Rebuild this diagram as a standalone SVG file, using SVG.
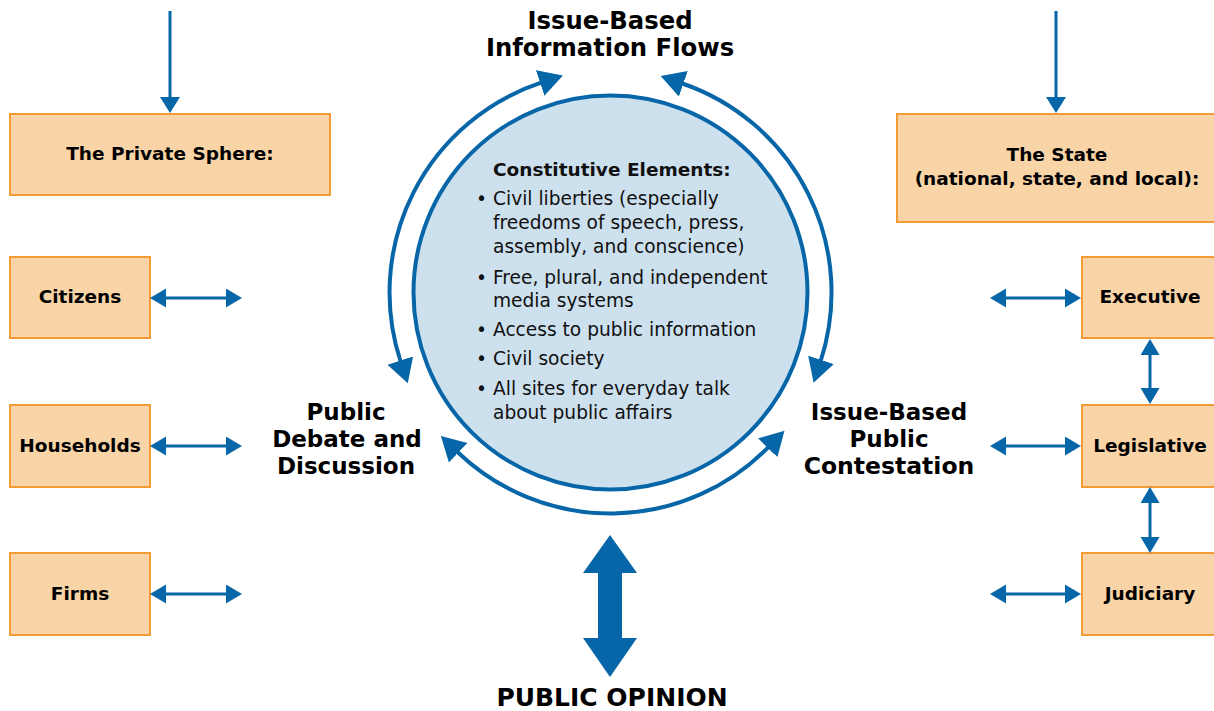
<svg xmlns="http://www.w3.org/2000/svg" width="1214" height="711" viewBox="0 0 1214 711">
<style>
.box{fill:#f8d4a6;stroke:#f39b36;stroke-width:2}
.bt{font-family:"DejaVu Sans",Verdana,sans-serif;font-weight:bold;font-size:18.5px;fill:#000;text-anchor:middle}
.hd{font-family:"DejaVu Sans",Verdana,sans-serif;font-weight:bold;font-size:23px;fill:#000;text-anchor:middle}
.ct{font-family:"DejaVu Sans",Verdana,sans-serif;font-size:18.6px;fill:#111}
.ctb{font-family:"DejaVu Sans",Verdana,sans-serif;font-size:18.5px;font-weight:bold;fill:#111}
.ln{stroke:#0766a8;stroke-width:3;fill:none}
.arc{stroke:#0766a8;stroke-width:4;fill:none;marker-start:url(#ah);marker-end:url(#ah)}
.sa{stroke:#0766a8;stroke-width:3;fill:none;marker-start:url(#sa);marker-end:url(#sa)}
</style>
<defs>
<marker id="ah" markerUnits="userSpaceOnUse" markerWidth="26" markerHeight="28" refX="1" refY="13.5" orient="auto-start-reverse" viewBox="0 0 26 28"><path d="M0,0 L24,13.5 L0,27 z" fill="#0766a8"/></marker>
<marker id="sa" markerUnits="userSpaceOnUse" markerWidth="18" markerHeight="20" refX="6" refY="9.5" orient="auto-start-reverse" viewBox="0 0 18 20"><path d="M0,0 L16,9.5 L0,19 z" fill="#0766a8"/></marker>
</defs>
<rect width="1214" height="711" fill="#fff"/>

<g id="center">
<circle cx="610.5" cy="292.5" r="197" fill="#cde0ee" stroke="#0766a8" stroke-width="4"/>
<text class="ctb" x="493" y="176">Constitutive Elements:</text>
<g class="ct">
<text x="476" y="205">•</text><text x="493" y="205">Civil liberties (especially</text>
<text x="493" y="229">freedoms of speech, press,</text>
<text x="493" y="253">assembly, and conscience)</text>
<text x="476" y="284">•</text><text x="493" y="284">Free, plural, and independent</text>
<text x="493" y="307">media systems</text>
<text x="476" y="336">•</text><text x="493" y="336">Access to public information</text>
<text x="476" y="365">•</text><text x="493" y="365">Civil society</text>
<text x="476" y="395">•</text><text x="493" y="395">All sites for everyday talk</text>
<text x="493" y="419">about public affairs</text>
</g>
</g>

<g id="label-flows"><text class="hd" x="610" y="29" style="font-size:24.3px">Issue-Based</text><text class="hd" x="610" y="56" style="font-size:24.3px">Information Flows</text></g>
<g id="label-debate"><text class="hd" x="346" y="420">Public</text><text class="hd" x="347" y="447">Debate and</text><text class="hd" x="346" y="474">Discussion</text></g>
<g id="label-contest"><text class="hd" x="889" y="420">Issue-Based</text><text class="hd" x="889" y="447">Public</text><text class="hd" x="889" y="474" style="font-size:23.5px">Contestation</text></g>
<g id="label-opinion"><text class="hd" x="612" y="706" style="font-size:25px">PUBLIC OPINION</text></g>

<g id="private-sphere"><rect class="box" x="10" y="114" width="320" height="81"/><text class="bt" x="170" y="160">The Private Sphere:</text></g>
<g id="citizens"><rect class="box" x="10" y="257" width="140" height="81"/><text class="bt" x="80" y="303">Citizens</text></g>
<g id="households"><rect class="box" x="10" y="405" width="140" height="82"/><text class="bt" x="80" y="452">Households</text></g>
<g id="firms"><rect class="box" x="10" y="553" width="140" height="82"/><text class="bt" x="80" y="600">Firms</text></g>

<g id="state"><rect class="box" x="897" y="114" width="320" height="108"/><text class="bt" x="1057" y="161">The State</text><text class="bt" x="1057" y="185">(national, state, and local):</text></g>
<g id="executive"><rect class="box" x="1082" y="257" width="137" height="81"/><text class="bt" x="1150" y="303">Executive</text></g>
<g id="legislative"><rect class="box" x="1082" y="405" width="137" height="82"/><text class="bt" x="1150" y="452">Legislative</text></g>
<g id="judiciary"><rect class="box" x="1082" y="553" width="137" height="82"/><text class="bt" x="1150" y="600">Judiciary</text></g>

<g id="connectors">
<line class="ln" x1="170" y1="11" x2="170" y2="98"/>
<path d="M160,97 L180,97 L170,113 z" fill="#0766a8"/>
<line class="ln" x1="1056" y1="11" x2="1056" y2="98"/>
<path d="M1046,97 L1066,97 L1056,113 z" fill="#0766a8"/>

<path class="arc" d="M400.6,361.5 A221,221 0 0 1 541.1,82.7"/>
<path class="arc" d="M682.4,83.5 A221,221 0 0 1 820.7,360.8"/>
<path class="arc" d="M768.4,447.1 A221,221 0 0 1 457.5,452"/>

<line class="sa" x1="160" y1="298" x2="232" y2="298"/>
<line class="sa" x1="160" y1="446" x2="232" y2="446"/>
<line class="sa" x1="160" y1="594" x2="232" y2="594"/>
<line class="sa" x1="1000" y1="298" x2="1071" y2="298"/>
<line class="sa" x1="1000" y1="446" x2="1071" y2="446"/>
<line class="sa" x1="1000" y1="594" x2="1071" y2="594"/>
<line class="sa" x1="1150" y1="349" x2="1150" y2="394"/>
<line class="sa" x1="1150" y1="497" x2="1150" y2="543"/>

<path d="M610,535 L637,573 L622,573 L622,638 L637,638 L610,677 L583,638 L598,638 L598,573 L583,573 z" fill="#0766a8"/>
</g>
</svg>
